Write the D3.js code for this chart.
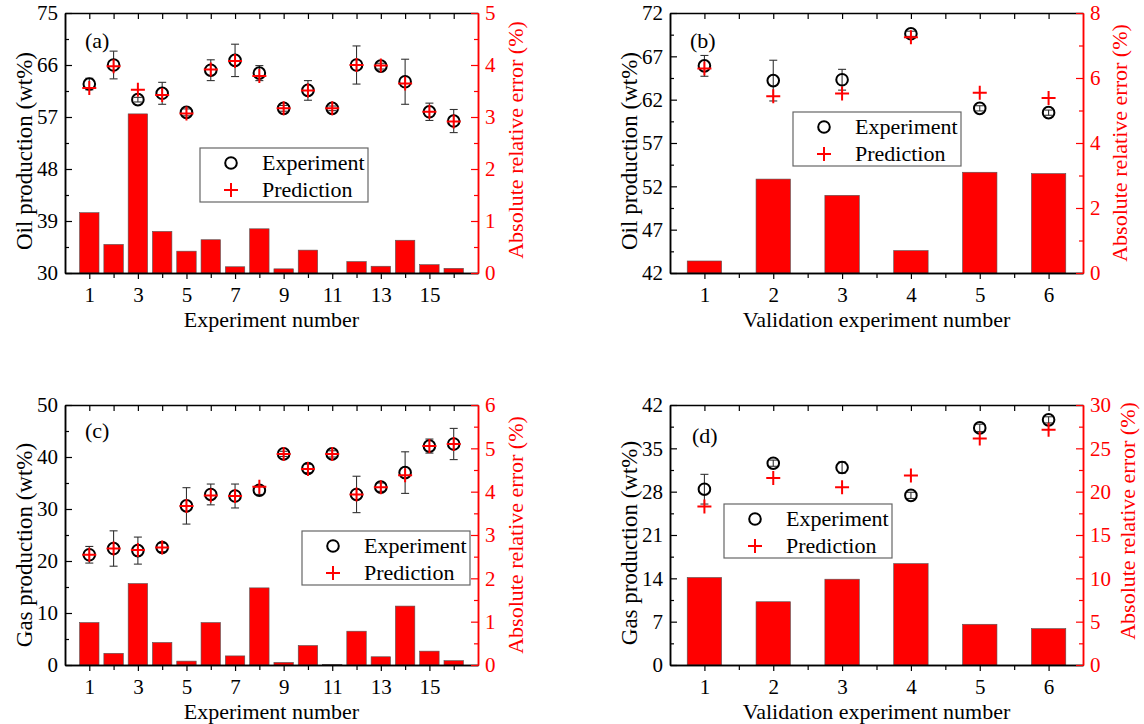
<!DOCTYPE html>
<html>
<head>
<meta charset="utf-8">
<script src="https://cdn.jsdelivr.net/npm/d3@7"></script>
<style>
  body { margin: 0; background: #fff; }
</style>
</head>
<body>
<div id="chart"></div>
<script>
/*=============================
===DATA =======================*/
// experiment numbers
var runs16 = [1, 2, 3, 4, 5, 6, 7, 8, 9, 10, 11, 12, 13, 14, 15, 16];
var runs6 = [1, 2, 3, 4, 5, 6];

// (a) oil production, 16 experiments
var oilExp  = [62.7, 66.0, 60.0, 61.1, 57.8, 65.1, 66.8, 64.6, 58.5, 61.6, 58.5, 66.0, 65.8, 63.1, 57.9, 56.3];
var oilPred = [62.0, 65.8, 61.7, 60.8, 57.6, 65.2, 66.7, 64.1, 58.5, 61.6, 58.5, 66.0, 65.9, 62.8, 57.9, 56.2];
var oilSd   = [1.0, 2.4, 0.4, 1.9, 0.6, 1.8, 2.8, 1.3, 0.5, 1.7, 0.4, 3.3, 0.5, 3.9, 1.5, 2.0];
var oilAre  = [1.16, 0.55, 3.06, 0.80, 0.42, 0.64, 0.12, 0.85, 0.08, 0.44, 0.0, 0.22, 0.13, 0.63, 0.16, 0.09];

// (b) oil production, validation
var valOilExp  = [65.9, 64.2, 64.3, 69.6, 61.0, 60.5];
var valOilPred = [65.6, 62.4, 62.7, 69.2, 62.8, 62.2];
var valOilSd   = [1.2, 2.35, 1.2, 0.3, 0.3, 0.3];
var valOilAre  = [0.37, 2.89, 2.39, 0.69, 3.10, 3.06];

// (c) gas production, 16 experiments
var gasExp  = [21.2, 22.4, 22.0, 22.6, 30.6, 32.8, 32.5, 33.6, 40.6, 37.8, 40.6, 32.8, 34.2, 37.0, 42.1, 42.5];
var gasPred = [21.2, 22.4, 22.1, 22.6, 30.6, 32.6, 32.5, 34.3, 40.6, 37.7, 40.6, 32.8, 34.2, 36.5, 42.1, 42.5];
var gasSd   = [1.6, 3.4, 2.6, 0.8, 3.5, 2.0, 2.3, 0.8, 0.5, 0.8, 0.6, 3.5, 0.8, 4.0, 1.35, 3.0];
var gasAre  = [0.98, 0.27, 1.88, 0.52, 0.09, 0.98, 0.21, 1.78, 0.06, 0.45, 0.01, 0.78, 0.19, 1.36, 0.32, 0.10];

// (d) gas production, validation
var valGasExp  = [28.4, 32.6, 31.9, 27.4, 38.3, 39.6];
var valGasPred = [25.6, 30.2, 28.7, 30.6, 36.6, 38.0];
var valGasSd   = [2.4, 0.5, 0.9, 0.5, 0.6, 0.5];
var valGasAre  = [10.1, 7.3, 9.9, 11.7, 4.7, 4.2];

// tick labels
var oilTicks = [30, 39, 48, 57, 66, 75];
var valOilTicks = [42, 47, 52, 57, 62, 67, 72];
var gasTicks = [0, 10, 20, 30, 40, 50];
var valGasTicks = [0, 7, 14, 21, 28, 35, 42];
var errTicksA = [0, 1, 2, 3, 4, 5];
var errTicksB = [0, 2, 4, 6, 8];
var errTicksC = [0, 1, 2, 3, 4, 5, 6];
var errTicksD = [0, 5, 10, 15, 20, 25, 30];
var xTicks16 = [1, 3, 5, 7, 9, 11, 13, 15];
var xTicks6 = [1, 2, 3, 4, 5, 6];

/*=============================
===SVG ========================*/
var svgWidth = 1144;
var svgHeight = 724;
var red = "#ff0000";
var serif = "'Liberation Serif', 'Times New Roman', Times, 'DejaVu Serif', serif";
var fmt = d3.format("d");

var svg = d3.select("#chart")
  .append("svg")
  .attr("width", svgWidth)
  .attr("height", svgHeight)
  .style("background", "#fff");

// minor ticks halfway between major ones
function halfSteps(ticks) {
  var out = [];
  for (var i = 0; i < ticks.length - 1; i++) out.push((ticks[i] + ticks[i + 1]) / 2);
  return out;
}

function styleAxis(sel, color) {
  sel.attr("font-family", null);
  sel.select(".domain").attr("stroke", color).attr("stroke-width", 1.5);
  sel.selectAll(".tick line").attr("stroke", color).attr("stroke-width", 1.2);
  sel.selectAll(".tick text").attr("fill", color)
    .style("font-family", serif).style("font-size", "21px");
}

function label(g, size) {
  return g.append("text").style("font-family", serif).style("font-size", size + "px");
}

function drawPanel(p) {
  var g = svg.append("g");

  var x = d3.scaleLinear().domain(p.xDomain).range([p.left, p.right]);
  var y = d3.scaleLinear().domain([p.yTicks[0], p.yTicks[p.yTicks.length - 1]]).range([p.bottom, p.top]);
  var y2 = d3.scaleLinear().domain([p.errTicks[0], p.errTicks[p.errTicks.length - 1]]).range([p.bottom, p.top]);

  // relative error bars (right axis)
  g.selectAll(".bar")
    .data(p.runs)
    .enter()
    .append("rect")
    .attr("x", d => x(d - p.barWidth / 2))
    .attr("width", x(p.barWidth) - x(0))
    .attr("y", (d, i) => y2(p.are[i]))
    .attr("height", (d, i) => y2(0) - y2(p.are[i]))
    .attr("fill", red)
    .attr("stroke", "#555")
    .attr("stroke-width", 0.6);

  // bottom axis, major + minor
  var bAx = g.append("g").attr("transform", `translate(0,${p.bottom})`)
    .call(d3.axisBottom(x).tickValues(p.xTicks).tickSize(6).tickSizeOuter(0).tickPadding(8).tickFormat(fmt));
  styleAxis(bAx, "#000");
  var bMin = g.append("g").attr("transform", `translate(0,${p.bottom})`)
    .call(d3.axisBottom(x).tickValues(p.xMinor).tickSize(5).tickSizeOuter(0).tickFormat(""));
  styleAxis(bMin, "#000");

  // top axis, ticks inward
  var tAx = g.append("g").attr("transform", `translate(0,${p.top})`)
    .call(d3.axisTop(x).tickValues(p.xTicks.concat(p.xMinor)).tickSize(-6).tickSizeOuter(0).tickFormat(""));
  styleAxis(tAx, "#000");

  // left axis
  var lAx = g.append("g").attr("transform", `translate(${p.left},0)`)
    .call(d3.axisLeft(y).tickValues(p.yTicks).tickSize(-7).tickSizeOuter(0).tickPadding(7).tickFormat(fmt));
  styleAxis(lAx, "#000");
  var lMin = g.append("g").attr("transform", `translate(${p.left},0)`)
    .call(d3.axisLeft(y).tickValues(halfSteps(p.yTicks)).tickSize(-4).tickSizeOuter(0).tickFormat(""));
  styleAxis(lMin, "#000");

  // right axis (red)
  var rAx = g.append("g").attr("transform", `translate(${p.right},0)`)
    .call(d3.axisRight(y2).tickValues(p.errTicks).tickSize(-7).tickSizeOuter(0).tickPadding(7).tickFormat(fmt));
  styleAxis(rAx, red);
  var rMin = g.append("g").attr("transform", `translate(${p.right},0)`)
    .call(d3.axisRight(y2).tickValues(halfSteps(p.errTicks)).tickSize(-4).tickSizeOuter(0).tickFormat(""));
  styleAxis(rMin, red);

  // experiment error bars
  var eb = g.selectAll(".eb").data(p.runs).enter().append("g");
  eb.append("line")
    .attr("x1", d => x(d)).attr("x2", d => x(d))
    .attr("y1", (d, i) => y(p.exp[i] + p.sd[i]))
    .attr("y2", (d, i) => y(p.exp[i] - p.sd[i]));
  eb.append("line")
    .attr("x1", d => x(d) - 4).attr("x2", d => x(d) + 4)
    .attr("y1", (d, i) => y(p.exp[i] + p.sd[i]))
    .attr("y2", (d, i) => y(p.exp[i] + p.sd[i]));
  eb.append("line")
    .attr("x1", d => x(d) - 4).attr("x2", d => x(d) + 4)
    .attr("y1", (d, i) => y(p.exp[i] - p.sd[i]))
    .attr("y2", (d, i) => y(p.exp[i] - p.sd[i]));
  eb.selectAll("line").attr("stroke", "#333").attr("stroke-width", 1.1);

  // experiment circles
  g.selectAll(".exp")
    .data(p.runs)
    .enter()
    .append("circle")
    .attr("cx", d => x(d))
    .attr("cy", (d, i) => y(p.exp[i]))
    .attr("r", 5.8)
    .attr("fill", "none")
    .attr("stroke", "#000")
    .attr("stroke-width", 2);

  // prediction crosses
  g.selectAll(".pred")
    .data(p.runs)
    .enter()
    .append("path")
    .attr("d", (d, i) => {
      var cx = x(d), cy = y(p.pred[i]);
      return `M${cx - 7},${cy}H${cx + 7}M${cx},${cy - 7}V${cy + 7}`;
    })
    .attr("stroke", red)
    .attr("stroke-width", 2)
    .attr("fill", "none");

  // panel tag
  label(g, 22)
    .attr("x", p.left + p.tagDx)
    .attr("y", p.top + p.tagDy)
    .text(p.tag);

  // axis titles
  label(g, 22)
    .attr("x", (p.left + p.right) / 2)
    .attr("y", p.bottom + 54)
    .attr("text-anchor", "middle")
    .text(p.xTitle);

  var midY = (p.top + p.bottom) / 2;
  label(g, 23)
    .attr("transform", `translate(${p.left - 41},${midY + p.yTitleShift}) rotate(-90)`)
    .attr("text-anchor", "middle")
    .attr("dy", "0.35em")
    .text(p.yTitle);

  label(g, 22)
    .attr("transform", `translate(${p.right + p.y2TitleDx},${midY + p.y2TitleShift}) rotate(-90)`)
    .attr("text-anchor", "middle")
    .attr("dy", "0.35em")
    .attr("fill", red)
    .text("Absolute relative error (%)");

  // legend
  var lg = g.append("g").attr("transform", `translate(${p.legend[0]},${p.legend[1]})`);
  lg.append("rect")
    .attr("width", 168).attr("height", 54)
    .attr("fill", "#fff")
    .attr("stroke", "#666")
    .attr("stroke-width", 1.2);
  lg.append("circle")
    .attr("cx", 31).attr("cy", 15).attr("r", 5.8)
    .attr("fill", "none").attr("stroke", "#000").attr("stroke-width", 2);
  lg.append("path")
    .attr("d", "M24,42H38M31,35V49")
    .attr("stroke", red).attr("stroke-width", 2);
  label(lg, 22).attr("x", 62).attr("y", 22).text("Experiment");
  label(lg, 22).attr("x", 62).attr("y", 49).text("Prediction");
}

var panels = [
  { tag: "(a)", left: 65, right: 478, top: 13, bottom: 273, xDomain: [0, 17], barWidth: 0.8,
    runs: runs16, exp: oilExp, pred: oilPred, sd: oilSd, are: oilAre,
    yTicks: oilTicks, errTicks: errTicksA, xTicks: xTicks16, xMinor: [2, 4, 6, 8, 10, 12, 14, 16],
    xTitle: "Experiment number", yTitle: "Oil production (wt%)",
    yTitleShift: 8, y2TitleDx: 37, y2TitleShift: -3, tagDx: 20, tagDy: 35, legend: [200, 148] },
  { tag: "(b)", left: 670, right: 1083, top: 13, bottom: 273, xDomain: [0.5, 6.5], barWidth: 0.5,
    runs: runs6, exp: valOilExp, pred: valOilPred, sd: valOilSd, are: valOilAre,
    yTicks: valOilTicks, errTicks: errTicksB, xTicks: xTicks6, xMinor: [1.5, 2.5, 3.5, 4.5, 5.5],
    xTitle: "Validation experiment number", yTitle: "Oil production (wt%)",
    yTitleShift: 8, y2TitleDx: 36, y2TitleShift: 0, tagDx: 20, tagDy: 35, legend: [793, 112] },
  { tag: "(c)", left: 65, right: 478, top: 405, bottom: 665, xDomain: [0, 17], barWidth: 0.8,
    runs: runs16, exp: gasExp, pred: gasPred, sd: gasSd, are: gasAre,
    yTicks: gasTicks, errTicks: errTicksC, xTicks: xTicks16, xMinor: [2, 4, 6, 8, 10, 12, 14, 16],
    xTitle: "Experiment number", yTitle: "Gas production (wt%)",
    yTitleShift: 10, y2TitleDx: 37, y2TitleShift: 0, tagDx: 20, tagDy: 33, legend: [302, 531] },
  { tag: "(d)", left: 670, right: 1083, top: 405, bottom: 665, xDomain: [0.5, 6.5], barWidth: 0.5,
    runs: runs6, exp: valGasExp, pred: valGasPred, sd: valGasSd, are: valGasAre,
    yTicks: valGasTicks, errTicks: errTicksD, xTicks: xTicks6, xMinor: [1.5, 2.5, 3.5, 4.5, 5.5],
    xTitle: "Validation experiment number", yTitle: "Gas production (wt%)",
    yTitleShift: 8, y2TitleDx: 44, y2TitleShift: -14, tagDx: 22, tagDy: 38, legend: [724, 504] }
];

panels.forEach(drawPanel);
</script>
</body>
</html>
